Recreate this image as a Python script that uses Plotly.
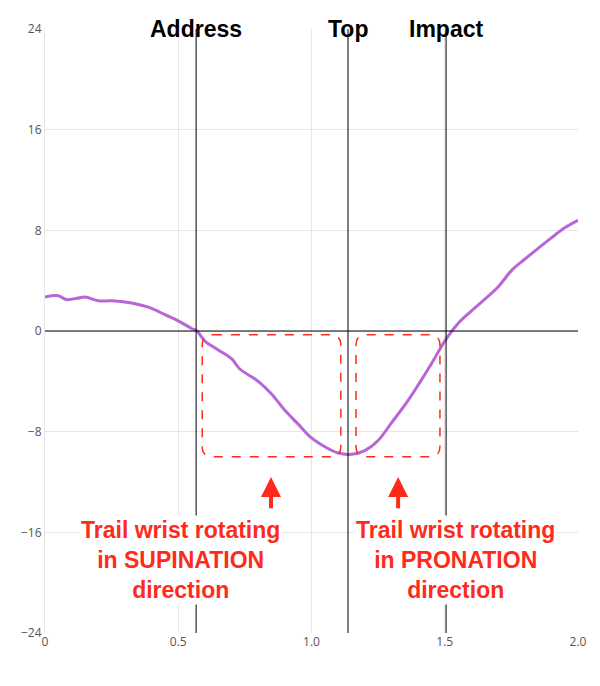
import plotly.graph_objects as go

time_s = [0, 0.05, 0.08, 0.12, 0.15, 0.2, 0.25, 0.3, 0.35, 0.4, 0.45, 0.5, 0.55, 0.57, 0.6, 0.65, 0.7, 0.73,
          0.8, 0.85, 0.9, 0.95, 1.0, 1.05, 1.1, 1.15, 1.2, 1.25, 1.3, 1.35, 1.4, 1.45, 1.5, 1.55, 1.6,
          1.7, 1.75, 1.8, 1.9, 1.95, 2.0]
rotation = [2.7, 2.8, 2.5, 2.6, 2.7, 2.4, 2.4, 2.3, 2.1, 1.8, 1.3, 0.8, 0.2, 0.0, -0.8, -1.5, -2.2, -3.0,
            -4.0, -5.0, -6.3, -7.4, -8.5, -9.2, -9.7, -9.8, -9.5, -8.7, -7.3, -5.9, -4.3, -2.6, -0.8, 0.6, 1.6,
            3.5, 4.8, 5.7, 7.4, 8.2, 8.8]
event_names = ["Address", "Top", "Impact"]
event_times = [0.567, 1.137, 1.505]
boxes = [(0.59, 1.11), (1.167, 1.482)]
box_y = (-0.3, -10.0)
arrow_x = [0.848, 1.325]
labels = ["Trail wrist rotating<br>in SUPINATION<br>direction", "Trail wrist rotating<br>in PRONATION<br>direction"]
label_x = [0.51, 1.54]

fig = go.Figure(go.Scatter(x=time_s, y=rotation, mode="lines", line=dict(color="#b865d6", width=3, shape="spline"),
                           hoverinfo="skip"))

shapes = []
for t in event_times:
    shapes.append(dict(type="line", x0=t, x1=t, y0=-24, y1=24, line=dict(color="black", width=1)))
shapes.append(dict(type="line", x0=0, x1=2, y0=0, y1=0, line=dict(color="black", width=1)))

def rrect(x0, x1, y0, y1, rx=0.04, ry=0.8):
    return (f"M {x0+rx},{y0} L {x1-rx},{y0} Q {x1},{y0} {x1},{y0-ry} L {x1},{y1+ry} Q {x1},{y1} {x1-rx},{y1} "
            f"L {x0+rx},{y1} Q {x0},{y1} {x0},{y1+ry} L {x0},{y0-ry} Q {x0},{y0} {x0+rx},{y0} Z")

for x0, x1 in boxes:
    shapes.append(dict(type="path", path=rrect(x0, x1, box_y[0], box_y[1]),
                       line=dict(color="#ff2a1a", width=1.5, dash="dash")))
fig.update_layout(shapes=shapes)

ann = []
for n, t in zip(event_names, event_times):
    ann.append(dict(x=t, y=24, yref="y", text=f"<b>{n}</b>", showarrow=False, yanchor="middle",
                    font=dict(size=23, color="black", family="Liberation Sans")))
for ax_ in arrow_x:
    ann.append(dict(x=ax_, y=-11.6, ax=ax_, ay=-14.2, axref="x", ayref="y", xref="x", yref="y", text="",
                    showarrow=True, arrowhead=2, arrowsize=1, arrowwidth=4, arrowcolor="#ff2a1a"))
for lx, lt in zip(label_x, labels):
    ann.append(dict(x=lx, y=-18.2, text=f"<b>{lt}</b>", showarrow=False, bgcolor="white",
                    font=dict(size=23, color="#ff2a1a", family="Liberation Sans"), align="center"))
ann[1]["x"] = event_times[1]
fig.update_layout(annotations=ann)

fig.update_layout(width=600, height=686, margin=dict(l=37, r=30, t=12, b=61), plot_bgcolor="white",
                  paper_bgcolor="white", showlegend=False,
                  xaxis=dict(range=[0, 2], tickvals=[0, 0.5, 1.0, 1.5, 2.0], ticktext=["0", "0.5", "1.0", "1.5", "2.0"],
                             showgrid=True, gridcolor="#e6e6e6", zeroline=False, showline=False,
                             tickfont=dict(size=12, color="#555")),
                  yaxis=dict(range=[-24, 24], tickvals=[-24, -16, -8, 0, 8, 16, 24], showgrid=True, gridcolor="#e6e6e6",
                             zeroline=False, showline=True, linecolor="#e6e6e6", tickfont=dict(size=12, color="#555")))
fig.write_html("out.html")
